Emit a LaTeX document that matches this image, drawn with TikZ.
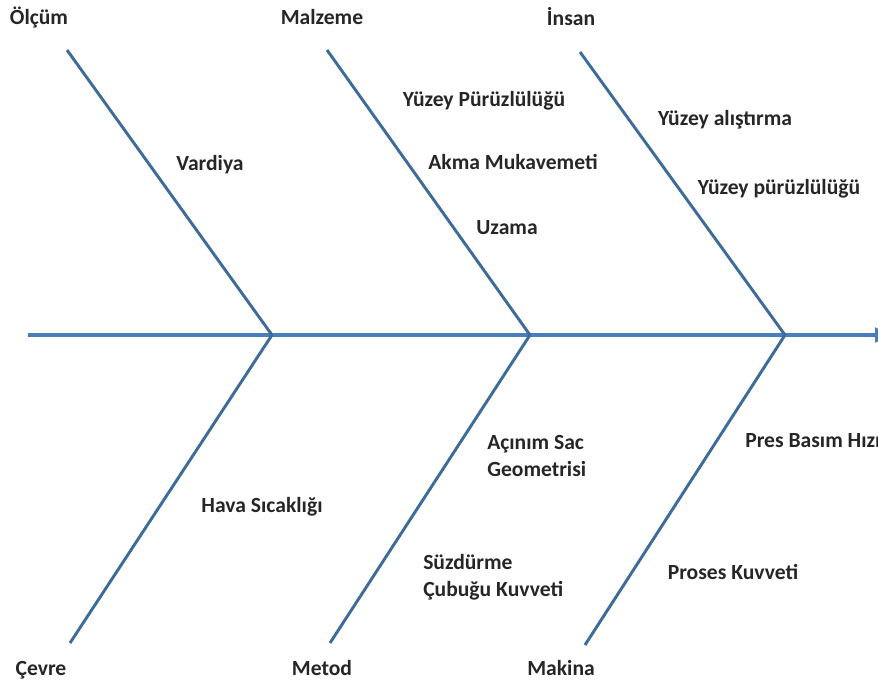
\documentclass[tikz,border=0pt]{standalone}
\usepackage{fontspec}
\setmainfont{Carlito}
\usetikzlibrary{arrows.meta}
\definecolor{spineblue}{HTML}{4A7EBB}
\definecolor{boneblue}{HTML}{3E6C9A}
\begin{document}
\begin{tikzpicture}[x=0.75pt,y=-0.75pt,
  lbl/.style={font=\fontsize{16.2}{20}\selectfont\bfseries, text=black!85, inner sep=0pt},
  lbll/.style={lbl, anchor=west, align=left},
  bone/.style={draw=boneblue, line width=2.2pt},
  spine/.style={draw=spineblue, line width=2.4pt}]
\useasboundingbox (0,0) rectangle (878,686);
\clip (0,0) rectangle (878,686);
% junctions and ends
\coordinate (s0) at (28,335);
\coordinate (s1) at (891,335);
\coordinate (j1) at (272,335);
\coordinate (j2) at (530,335);
\coordinate (j3) at (785,335);
\coordinate (t1) at (67,50);
\coordinate (t2) at (327,50);
\coordinate (t3) at (580,52);
\coordinate (b1) at (70,643);
\coordinate (b2) at (330,643);
\coordinate (b3) at (585,645);
% spine
\draw[spine,-{Triangle[length=12pt,width=11pt]}] (s0) -- (s1);
% bones
\draw[bone] (t1) -- (j1);
\draw[bone] (t2) -- (j2);
\draw[bone] (t3) -- (j3);
\draw[bone] (j1) -- (b1);
\draw[bone] (j2) -- (b2);
\draw[bone] (j3) -- (b3);
% category labels
\node[lbl] (olcum) at (39,18) {Ölçüm};
\node[lbl] (malzeme) at (322,17) {Malzeme};
\node[lbl] (insan) at (571,17) {İnsan};
\node[lbl] (cevre) at (41,670) {Çevre};
\node[lbl] (metod) at (322,668) {Metod};
\node[lbl] (makina) at (561,668) {Makina};
% causes
\node[lbl] (vardiya) at (210,165) {Vardiya};
\node[lbl] (yp1) at (484,101) {Yüzey Pürüzlülüğü};
\node[lbl] (akma) at (513,162) {Akma Mukavemeti};
\node[lbl] (uzama) at (507,228) {Uzama};
\node[lbl] (yal) at (725,120) {Yüzey alıştırma};
\node[lbl] (yp2) at (779,189) {Yüzey pürüzlülüğü};
\node[lbll] (acinim) at (487,456) {Açınım Sac\\Geometrisi};
\node[lbl] (hava) at (262,507) {Hava Sıcaklığı};
\node[lbll] (pres) at (745,441) {Pres Basım Hızı};
\node[lbll] (suzdurme) at (423,577) {Süzdürme\\Çubuğu Kuvveti};
\node[lbl] (proses) at (733,572) {Proses Kuvveti};
\end{tikzpicture}
\end{document}
